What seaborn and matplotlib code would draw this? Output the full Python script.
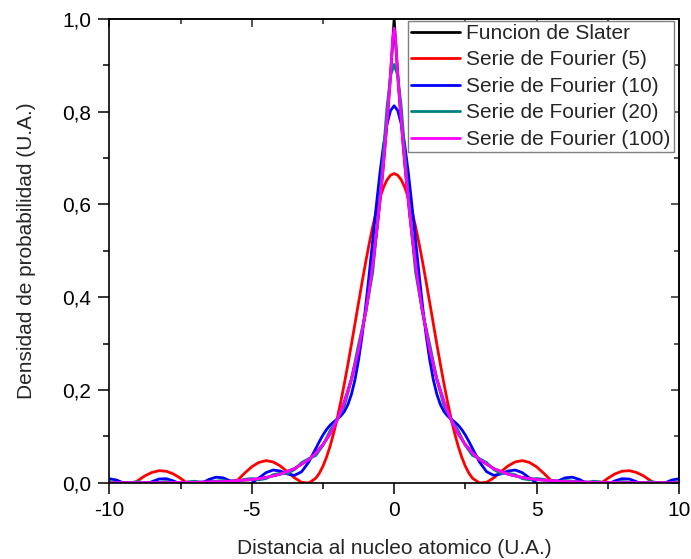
import matplotlib
matplotlib.use("Agg")
import matplotlib.pyplot as plt
import pandas as pd
import seaborn as sns
from matplotlib.ticker import FuncFormatter, MultipleLocator, NullFormatter

# ---- data (half axis, x >= 0; every curve is symmetric about x = 0) ----
labels = ["Funcion de Slater", "Serie de Fourier (5)", "Serie de Fourier (10)",
          "Serie de Fourier (20)", "Serie de Fourier (100)"]
colors = ["#000000", "#FF0000", "#0000FF", "#008080", "#FF00FF"]

x_slater = [0.0, 0.05, 0.1, 0.15, 0.2, 0.3, 0.4, 0.5, 0.6, 0.7, 0.8, 0.9, 1.0, 1.25, 1.5, 1.75,
            2.0, 2.25, 2.5, 2.75, 3.0, 3.5, 4.0, 4.5, 5.0, 6.0, 7.0, 8.0, 10.0]
y_slater = [1.0, 0.9512, 0.9048, 0.8607, 0.8187, 0.7408, 0.6703, 0.6065, 0.5488, 0.4966, 0.4493,
            0.4066, 0.3679, 0.2865, 0.2231, 0.1738, 0.1353, 0.1054, 0.0821, 0.0639, 0.0498,
            0.0302, 0.0183, 0.0111, 0.0067, 0.0025, 0.0009, 0.0003, 0.0000]

x_f5 = [0.0, 0.125, 0.25, 0.375, 0.5, 0.625, 0.75, 0.875, 1.0, 1.125, 1.25, 1.375, 1.5, 1.625,
        1.75, 1.875, 2.0, 2.125, 2.25, 2.375, 2.5, 2.625, 2.75, 3.0, 3.25, 3.5, 3.75,
        4.0, 4.25, 4.5, 4.75, 5.0, 5.25, 5.5, 5.75, 6.0, 6.25, 6.5, 6.75, 7.0, 7.25, 7.5, 7.75,
        8.0, 8.25, 8.5, 8.75, 9.0, 9.25, 9.5, 9.75, 10.0]
y_f5 = [0.6666, 0.6632, 0.6531, 0.6366, 0.6141, 0.5860, 0.5530, 0.5158, 0.4754, 0.4325, 0.3880,
        0.3430, 0.2983, 0.2547, 0.2131, 0.1742, 0.1384, 0.1064, 0.0785, 0.0548, 0.0355, 0.0205,
        0.0097, -0.0008, 0.0009, 0.0106, 0.0237, 0.0362, 0.0448, 0.0476, 0.0437, 0.0342, 0.0205,
        0.0052, -0.0092, -0.0203, -0.0265, -0.0271, -0.0223, -0.0133, -0.0020, 0.0094, 0.0189,
        0.0247, 0.0259, 0.0223, 0.0148, 0.0046, -0.0063, -0.0159, -0.0224, -0.0247]

x_f10 = [0.0, 0.125, 0.25, 0.375, 0.5, 0.625, 0.75, 0.875, 1.0, 1.125, 1.25, 1.375, 1.5, 1.625,
         1.75, 1.875, 2.0, 2.125, 2.25, 2.375, 2.5, 2.625, 2.75, 3.0,
         3.25, 3.5, 3.75, 4.0, 4.25, 4.5, 4.75, 5.0, 5.25, 5.5, 5.75, 6.0, 6.25, 6.5, 6.75, 7.0,
         7.25, 7.5, 7.75, 8.0, 8.25, 8.5, 8.75, 9.0, 9.25, 9.5, 9.75, 10.0]
y_f10 = [0.8128, 0.8027, 0.7735, 0.7273, 0.6674, 0.5981, 0.5241, 0.4500, 0.3800, 0.3174, 0.2644,
         0.2222, 0.1905, 0.1682, 0.1534, 0.1439, 0.1371, 0.1310, 0.1238, 0.1145, 0.1028, 0.0889,
         0.0738, 0.0443, 0.0235, 0.0158, 0.0188, 0.0252, 0.0273, 0.0216, 0.0102,
         -0.0008, -0.0061, -0.0036, 0.0037, 0.0104, 0.0119, 0.0071, -0.0010, -0.0072, -0.0080,
         -0.0032, 0.0039, 0.0086, 0.0080, 0.0024, -0.0045, -0.0082, -0.0066, -0.0006, 0.0058,
         0.0085]

x_f20 = [0.0, 0.125, 0.25, 0.5, 0.75, 1.0, 1.25, 1.5, 1.75, 2.0, 2.25, 2.5, 2.75, 3.0, 3.25,
         3.5, 3.75, 4.0, 4.25, 4.5, 4.75, 5.0, 5.25, 5.5, 5.75, 6.0, 6.25, 6.5, 6.75, 7.0, 7.25,
         7.5, 7.75, 8.0, 8.25, 8.5, 8.75, 9.0, 9.25, 9.5, 9.75, 10.0]
y_f20 = [0.9020, 0.8780, 0.8103, 0.6156, 0.4548, 0.3663, 0.2980, 0.2227, 0.1654, 0.1366, 0.1119,
         0.0804, 0.0587, 0.0517, 0.0432, 0.0282, 0.0199, 0.0204, 0.0172, 0.0088, 0.0062, 0.0090,
         0.0073, 0.0018, 0.0014, 0.0048, 0.0034, -0.0008, -0.0001, 0.0032, 0.0018, -0.0018,
         -0.0004, 0.0026, 0.0009, -0.0021, -0.0003, 0.0024, 0.0004, -0.0023, 0.0000, 0.0025]

x_f100 = [0.0, 0.05, 0.1, 0.15, 0.2, 0.3, 0.4, 0.5, 0.6, 0.7, 0.8, 0.9, 1.0, 1.25, 1.5, 1.75,
          2.0, 2.25, 2.5, 2.75, 3.0, 3.5, 4.0, 4.5, 5.0, 6.0, 7.0, 8.0, 10.0]
y_f100 = [0.980, 0.958, 0.907, 0.857, 0.8187, 0.7408, 0.6703, 0.6065, 0.5488, 0.4966, 0.4493,
          0.4066, 0.3679, 0.2865, 0.2231, 0.1738, 0.1353, 0.1054, 0.0821, 0.0639, 0.0498,
          0.0302, 0.0183, 0.0111, 0.0067, 0.0025, 0.0009, 0.0003, 0.0000]

x_ticks = [-10, -5, 0, 5, 10]
y_ticks = [0.0, 0.2, 0.4, 0.6, 0.8, 1.0]


def mirror(xs, ys):
    """Full symmetric curve from the x >= 0 half."""
    return [-v for v in xs[:0:-1]] + list(xs), list(ys[:0:-1]) + list(ys)


halves = [(x_slater, y_slater), (x_f5, y_f5), (x_f10, y_f10), (x_f20, y_f20), (x_f100, y_f100)]
frames = []
for lab, (hx, hy) in zip(labels, halves):
    fx, fy = mirror(hx, hy)
    frames.append(pd.DataFrame({"x": fx, "y": fy, "serie": lab}))
df = pd.concat(frames, ignore_index=True)

# ---- style ----
sns.set_theme(style="ticks")
plt.rcParams["font.family"] = ["Liberation Sans", "DejaVu Sans"]
plt.rcParams["font.size"] = 15

fig = plt.figure(figsize=(6.91, 5.59), dpi=100)
ax = fig.add_axes([0.1582, 0.1365, 0.8244, 0.8295])

for lab, col in zip(labels, colors):
    sns.lineplot(data=df[df["serie"] == lab], x="x", y="y", color=col, linewidth=2.0,
                 label=lab, estimator=None, sort=False, ax=ax)

ax.set_xlim(-10, 10)
ax.set_ylim(0, 1.0)
ax.set_xticks(x_ticks)
ax.set_yticks(y_ticks)
ax.xaxis.set_minor_locator(MultipleLocator(2.5))
ax.yaxis.set_minor_locator(MultipleLocator(0.1))
ax.yaxis.set_major_formatter(FuncFormatter(lambda v, p: f"{v:.1f}".replace(".", ",")))
ax.xaxis.set_major_formatter(FuncFormatter(lambda v, p: f"{v:.0f}"))
ax.tick_params(which="both", direction="out", top=False, right=False, colors="black",
               labelsize=15, width=1.1)
ax.tick_params(which="major", length=8, pad=5)
ax.tick_params(which="minor", length=4.5)

for side in ["top", "bottom", "left", "right"]:
    ax.spines[side].set_visible(True)
    ax.spines[side].set_color("black")
    ax.spines[side].set_linewidth(1.2)

# inward ticks on top / right (mirror axes)
secx = ax.secondary_xaxis("top")
secx.set_xticks(x_ticks)
secx.xaxis.set_minor_locator(MultipleLocator(2.5))
secx.xaxis.set_major_formatter(NullFormatter())
secx.tick_params(which="both", direction="in", width=1.1)
secx.tick_params(which="major", length=6)
secx.tick_params(which="minor", length=3.5)
secx.spines["top"].set_linewidth(1.2)

secy = ax.secondary_yaxis("right")
secy.set_yticks(y_ticks)
secy.yaxis.set_minor_locator(MultipleLocator(0.1))
secy.yaxis.set_major_formatter(NullFormatter())
secy.tick_params(which="both", direction="in", width=1.1)
secy.tick_params(which="major", length=6)
secy.tick_params(which="minor", length=3.5)
secy.spines["right"].set_linewidth(1.2)

ax.set_xlabel("Distancia al nucleo atomico (U.A.)", fontsize=15)
ax.set_ylabel("Densidad de probabilidad (U.A.)", fontsize=15)
ax.xaxis.set_label_coords(0.5, -0.121)
ax.yaxis.set_label_coords(-0.128, 0.5)

leg = ax.legend(loc="upper right", bbox_to_anchor=(0.9912, 0.9963), borderaxespad=0,
                fontsize=15, frameon=True, fancybox=False, shadow=False,
                handlelength=2.35, handletextpad=0.3, labelspacing=0.36, borderpad=0.15)
leg.get_frame().set_edgecolor("#808080")
leg.get_frame().set_linewidth(1.0)
leg.get_frame().set_alpha(1.0)
for line in leg.get_lines():
    line.set_linewidth(2.0)

fig.savefig("out.png", dpi=100)
